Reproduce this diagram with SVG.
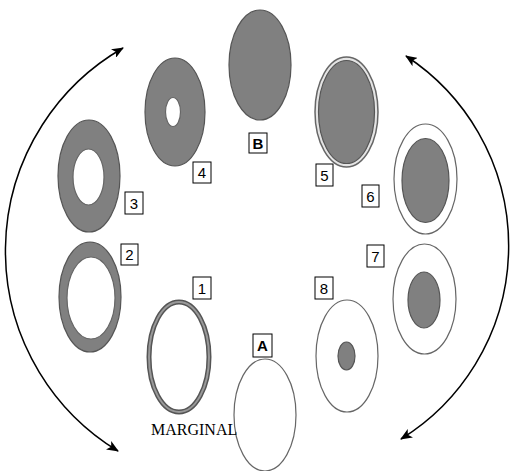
<svg xmlns="http://www.w3.org/2000/svg" width="513" height="471" viewBox="0 0 513 471">
<style>
.g{fill:#808080;stroke:#555;stroke-width:1.2}
.w{fill:#fff;stroke:#666;stroke-width:1.2}
.box{fill:#fff;stroke:#000;stroke-width:1}
.lbl{font-family:"Liberation Sans",Arial,sans-serif;font-size:15px;fill:#000;text-anchor:middle}
.arc{fill:none;stroke:#000;stroke-width:1.5}
</style>
<defs>
<marker id="ah" viewBox="0 0 12 10" refX="11" refY="5" markerWidth="12" markerHeight="10" markerUnits="userSpaceOnUse" orient="auto-start-reverse">
<path d="M0,0 L12,5 L0,10 L3,5 Z" fill="#000"/>
</marker>
</defs>
<rect width="513" height="471" fill="#fff"/>
<g id="connectors">
<path class="arc" d="M123,48 A234 234 0 0 0 118,451" marker-start="url(#ah)" marker-end="url(#ah)"/>
<path class="arc" d="M406,56 A227 227 0 0 1 401,439" marker-start="url(#ah)" marker-end="url(#ah)"/>
</g>
<g id="nodeB">
<ellipse class="g" cx="260" cy="65" rx="31" ry="55"/>
<rect class="box" x="249" y="133" width="18" height="20"/>
<text class="lbl" x="258" y="149" font-weight="bold">B</text>
</g>
<g id="node4">
<ellipse class="g" cx="175" cy="112" rx="30" ry="54"/>
<ellipse class="w" cx="173" cy="112" rx="7.5" ry="14.5"/>
<rect class="box" x="193" y="162" width="18" height="21"/>
<text class="lbl" x="202" y="178">4</text>
</g>
<g id="node3">
<ellipse class="g" cx="89" cy="176" rx="31" ry="56"/>
<ellipse class="w" cx="88.5" cy="177" rx="15.5" ry="28"/>
<rect class="box" x="125" y="192" width="18" height="22"/>
<text class="lbl" x="134" y="209">3</text>
</g>
<g id="node2">
<ellipse class="g" cx="90" cy="297" rx="31" ry="55"/>
<ellipse class="w" cx="91" cy="298" rx="24" ry="41"/>
<rect class="box" x="121" y="244" width="17" height="21"/>
<text class="lbl" x="129.5" y="260">2</text>
</g>
<g id="node1">
<ellipse cx="179" cy="357" rx="30" ry="55" fill="#fff" stroke="#555" stroke-width="5"/>
<ellipse cx="179" cy="357" rx="30" ry="55" fill="none" stroke="#999" stroke-width="2"/>
<rect class="box" x="193" y="277" width="18" height="22"/>
<text class="lbl" x="202" y="294">1</text>
</g>
<g id="nodeA">
<ellipse class="w" cx="265" cy="415" rx="31" ry="56"/>
<rect class="box" x="253" y="334" width="19" height="23"/>
<text class="lbl" x="262.5" y="351" font-weight="bold">A</text>
</g>
<g id="marginal">
<text x="151" y="435" font-family="'Liberation Serif','Times New Roman',serif" font-size="16" fill="#000">MARGINAL</text>
</g>
<g id="node8">
<ellipse class="w" cx="347" cy="356" rx="31" ry="56"/>
<ellipse class="g" cx="346.5" cy="356" rx="8.5" ry="14"/>
<rect class="box" x="315" y="277" width="18" height="22"/>
<text class="lbl" x="324" y="294">8</text>
</g>
<g id="node7">
<ellipse class="w" cx="424.5" cy="299" rx="31.5" ry="55"/>
<ellipse class="g" cx="424" cy="300" rx="16" ry="28"/>
<rect class="box" x="367" y="245" width="17" height="22"/>
<text class="lbl" x="375.5" y="262">7</text>
</g>
<g id="node6">
<ellipse class="w" cx="425.5" cy="179" rx="31.5" ry="55"/>
<ellipse class="g" cx="425.5" cy="180.5" rx="23.5" ry="42"/>
<rect class="box" x="362" y="185" width="17" height="22"/>
<text class="lbl" x="370.5" y="202">6</text>
</g>
<g id="node5">
<ellipse cx="346.5" cy="112" rx="31.5" ry="55" fill="#e4e4e4" stroke="#666" stroke-width="1.5"/>
<ellipse class="g" cx="346.5" cy="112" rx="28" ry="51.5" stroke-width="1.8"/>
<rect class="box" x="316" y="164" width="17" height="22"/>
<text class="lbl" x="324.5" y="181">5</text>
</g>
</svg>
